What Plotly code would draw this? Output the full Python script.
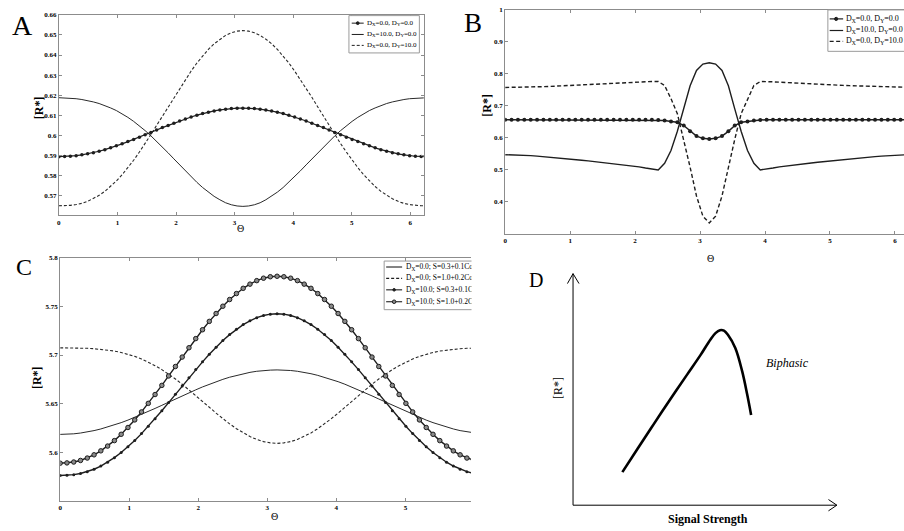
import math
import plotly.graph_objects as go

W, H = 904, 531
def px(x): return x / W
def py(y): return 1 - y / H

# ---------------- data ----------------
theta = [k * math.pi / 32 for k in range(65)]

A_dx0_dy0 = [0.5893,0.5894,0.5895,0.5898,0.5902,0.5907,0.5913,0.5920,0.5928,0.5937,0.5947,0.5957,0.5968,0.5979,0.5990,0.6002,0.6014,0.6026,0.6038,0.6049,0.6060,0.6071,0.6081,0.6091,0.6100,0.6108,0.6115,0.6121,0.6126,0.6130,0.6133,0.6135,0.6135,
             0.6135,0.6133,0.6130,0.6126,0.6121,0.6115,0.6108,0.6100,0.6091,0.6081,0.6071,0.6060,0.6049,0.6038,0.6026,0.6014,0.6002,0.5990,0.5979,0.5968,0.5957,0.5947,0.5937,0.5928,0.5920,0.5913,0.5907,0.5902,0.5898,0.5895,0.5894,0.5893]
A_dx10_dy0 = [0.6187,0.6186,0.6185,0.6182,0.6178,0.6173,0.6166,0.6158,0.6148,0.6136,0.6123,0.6107,0.6089,0.6069,0.6047,0.6023,0.5997,0.5970,0.5941,0.5912,0.5882,0.5852,0.5822,0.5793,0.5765,0.5739,0.5716,0.5695,0.5678,0.5663,0.5653,0.5647,0.5645,
              0.5647,0.5653,0.5663,0.5678,0.5695,0.5716,0.5739,0.5765,0.5793,0.5822,0.5852,0.5882,0.5912,0.5941,0.5970,0.5997,0.6023,0.6047,0.6069,0.6089,0.6107,0.6123,0.6136,0.6148,0.6158,0.6166,0.6173,0.6178,0.6182,0.6185,0.6186,0.6187]
A_dx0_dy10 = [0.5648,0.5648,0.5650,0.5654,0.5660,0.5670,0.5683,0.5700,0.5720,0.5744,0.5772,0.5803,0.5838,0.5875,0.5916,0.5958,0.6003,0.6049,0.6095,0.6142,0.6189,0.6234,0.6278,0.6320,0.6360,0.6395,0.6428,0.6456,0.6479,0.6498,0.6511,0.6519,0.6522,
              0.6519,0.6511,0.6498,0.6479,0.6456,0.6428,0.6395,0.6360,0.6320,0.6278,0.6234,0.6189,0.6142,0.6095,0.6049,0.6003,0.5958,0.5916,0.5875,0.5838,0.5803,0.5772,0.5744,0.5720,0.5700,0.5683,0.5670,0.5660,0.5654,0.5650,0.5648,0.5648]

B_dx0_dy0 = [0.656,0.656,0.656,0.656,0.656,0.656,0.656,0.656,0.656,0.656,0.656,0.656,0.656,0.656,0.656,0.656,0.656,0.656,0.656,0.656,0.656,0.656,0.656,0.656,0.6555,0.654,0.651,0.648,0.638,0.620,0.605,0.598,0.596,
             0.598,0.605,0.620,0.638,0.648,0.651,0.654,0.6555,0.656,0.656,0.656,0.656,0.656,0.656,0.656,0.656,0.656,0.656,0.656,0.656,0.656,0.656,0.656,0.656,0.656,0.656,0.656,0.656,0.656,0.656,0.656,0.656]
B_dx10_dy0 = [0.547,0.5468,0.5462,0.5452,0.5440,0.5425,0.5410,0.5393,0.5375,0.5357,0.5338,0.5318,0.5298,0.5277,0.5256,0.5234,0.5212,0.5190,0.5167,0.5143,0.5118,0.5090,0.5055,0.5015,0.4995,0.520,0.560,0.620,0.690,0.762,0.810,0.830,0.834,
              0.830,0.810,0.762,0.690,0.620,0.560,0.520,0.4995,0.5015,0.5055,0.5090,0.5118,0.5143,0.5167,0.5190,0.5212,0.5234,0.5256,0.5277,0.5298,0.5318,0.5338,0.5357,0.5375,0.5393,0.5410,0.5425,0.5440,0.5452,0.5462,0.5468,0.547]
B_dx0_dy10 = [0.757,0.7571,0.7573,0.7577,0.7582,0.7588,0.7595,0.7602,0.7610,0.7618,0.7626,0.7634,0.7643,0.7652,0.7661,0.7670,0.7680,0.7690,0.7700,0.7711,0.7722,0.7734,0.7746,0.7757,0.7755,0.763,0.722,0.675,0.595,0.508,0.418,0.355,0.334,
              0.355,0.418,0.508,0.595,0.675,0.722,0.763,0.7755,0.7757,0.7746,0.7734,0.7722,0.7711,0.7700,0.7690,0.7680,0.7670,0.7661,0.7652,0.7643,0.7634,0.7626,0.7618,0.7610,0.7602,0.7595,0.7588,0.7582,0.7577,0.7573,0.7571,0.757]

C_dx0_s03 = [5.6184,5.6186,5.6190,5.6198,5.6209,5.6223,5.6240,5.6259,5.6281,5.6305,5.6331,5.6359,5.6389,5.6419,5.6451,5.6483,5.6516,5.6548,5.6580,5.6612,5.6642,5.6672,5.6700,5.6726,5.6750,5.6772,5.6791,5.6808,5.6822,5.6833,5.6841,5.6845,5.6847,
             5.6845,5.6841,5.6833,5.6822,5.6808,5.6791,5.6772,5.6750,5.6726,5.6700,5.6672,5.6642,5.6612,5.6580,5.6548,5.6516,5.6483,5.6451,5.6419,5.6389,5.6359,5.6331,5.6305,5.6281,5.6259,5.6240,5.6223,5.6209,5.6198,5.6190,5.6186,5.6184]
C_dx0_s10 = [5.7074,5.7074,5.7073,5.7071,5.7069,5.7065,5.7059,5.7051,5.7041,5.7026,5.7009,5.6986,5.6959,5.6928,5.6891,5.6850,5.6804,5.6754,5.6700,5.6643,5.6584,5.6523,5.6463,5.6403,5.6346,5.6292,5.6243,5.6199,5.6162,5.6132,5.6110,5.6097,5.6092,
             5.6097,5.6110,5.6132,5.6162,5.6199,5.6243,5.6292,5.6346,5.6403,5.6463,5.6523,5.6584,5.6643,5.6700,5.6754,5.6804,5.6850,5.6891,5.6928,5.6959,5.6986,5.7009,5.7026,5.7041,5.7051,5.7059,5.7065,5.7069,5.7071,5.7073,5.7074,5.7074]
C_dx10_s03 = [5.5762,5.5764,5.5770,5.5782,5.5801,5.5826,5.5859,5.5898,5.5945,5.5998,5.6057,5.6122,5.6192,5.6267,5.6346,5.6427,5.6511,5.6596,5.6682,5.6766,5.6850,5.6930,5.7008,5.7080,5.7149,5.7210,5.7265,5.7313,5.7352,5.7384,5.7406,5.7420,5.7425,
              5.7420,5.7406,5.7384,5.7352,5.7313,5.7265,5.7210,5.7149,5.7080,5.7008,5.6930,5.6850,5.6766,5.6682,5.6596,5.6511,5.6427,5.6346,5.6267,5.6192,5.6122,5.6057,5.5998,5.5945,5.5898,5.5859,5.5826,5.5801,5.5782,5.5770,5.5764,5.5762]
C_dx10_s10 = [5.5888,5.5891,5.5900,5.5916,5.5941,5.5974,5.6015,5.6064,5.6120,5.6185,5.6255,5.6333,5.6415,5.6503,5.6594,5.6688,5.6785,5.6882,5.6979,5.7075,5.7169,5.7260,5.7346,5.7427,5.7502,5.7571,5.7632,5.7686,5.7729,5.7765,5.7790,5.7805,5.7810,
              5.7805,5.7790,5.7765,5.7729,5.7686,5.7632,5.7571,5.7502,5.7427,5.7346,5.7260,5.7169,5.7075,5.6979,5.6882,5.6785,5.6688,5.6594,5.6503,5.6415,5.6333,5.6255,5.6185,5.6120,5.6064,5.6015,5.5974,5.5941,5.5916,5.5900,5.5891,5.5888]

D_signal = [0.187, 0.244, 0.306, 0.370, 0.433, 0.483, 0.521, 0.540, 0.557, 0.572, 0.587, 0.615, 0.641, 0.660, 0.675]
D_response = [0.143, 0.243, 0.350, 0.460, 0.565, 0.648, 0.716, 0.743, 0.756, 0.754, 0.736, 0.679, 0.579, 0.479, 0.390]

theta_ticks = [0, 1, 2, 3, 4, 5, 6]
A_yticks = [0.57, 0.58, 0.59, 0.60, 0.61, 0.62, 0.63, 0.64, 0.65, 0.66]
A_yticktext = ["0.57", "0.58", "0.59", "0.6", "0.61", "0.62", "0.63", "0.64", "0.65", "0.66"]
B_yticks = [0.4, 0.5, 0.6, 0.7, 0.8, 0.9, 1.0]
B_yticktext = ["0.4", "0.5", "0.6", "0.7", "0.8", "0.9", "1"]
C_yticks = [5.6, 5.65, 5.7, 5.75, 5.8]
C_yticktext = ["5.6", "5.65", "5.7", "5.75", "5.8"]

AB_names = ["D<sub>X</sub>=0.0, D<sub>Y</sub>=0.0", "D<sub>X</sub>=10.0, D<sub>Y</sub>=0.0", "D<sub>X</sub>=0.0, D<sub>Y</sub>=10.0"]
C_names = ["D<sub>X</sub>=0.0; S=0.3+0.1CosΘ", "D<sub>X</sub>=0.0; S=1.0+0.2CosΘ",
           "D<sub>X</sub>=10.0; S=0.3+0.1CosΘ", "D<sub>X</sub>=10.0; S=1.0+0.2CosΘ"]

# ---------------- figure ----------------
INK = "#1e1e1e"
SERIF = "Liberation Serif"
fig = go.Figure()

def line_trace(x, y, xa, ya, name, width=1.0, dash=None, marker=None, color=INK):
    t = dict(x=x, y=y, xaxis=xa, yaxis=ya, name=name, showlegend=False, hoverinfo="skip",
             mode="lines+markers" if marker else "lines",
             line=dict(color=color, width=width, dash=dash))
    if marker:
        t["marker"] = marker
    fig.add_trace(go.Scatter(**t))

# A
line_trace(theta, A_dx10_dy0, "x", "y", AB_names[1], width=1.0, color="#2a2a2a")
line_trace(theta, A_dx0_dy10, "x", "y", AB_names[2], width=1.1, dash="3px,2px", color="#2a2a2a")
line_trace(theta, A_dx0_dy0, "x", "y", AB_names[0], width=1.2,
           marker=dict(size=3.5, color=INK, symbol="circle"))
# B
line_trace(theta, B_dx10_dy0, "x2", "y2", AB_names[1], width=1.4)
line_trace(theta, B_dx0_dy10, "x2", "y2", AB_names[2], width=1.4, dash="4px,2.5px")
line_trace(theta, B_dx0_dy0, "x2", "y2", AB_names[0], width=1.5,
           marker=dict(size=4, color=INK, symbol="circle"))
# C
line_trace(theta, C_dx0_s03, "x3", "y3", C_names[0], width=1.0, color="#2a2a2a")
line_trace(theta, C_dx0_s10, "x3", "y3", C_names[1], width=1.1, dash="3px,2px", color="#2a2a2a")
line_trace(theta, C_dx10_s03, "x3", "y3", C_names[2], width=1.4,
           marker=dict(size=3, color=INK, symbol="circle"))
line_trace(theta, C_dx10_s10, "x3", "y3", C_names[3], width=1.4,
           marker=dict(size=4.5, color="#8a8a8a", symbol="circle", line=dict(color=INK, width=1)))
# D
fig.add_trace(go.Scatter(x=D_signal, y=D_response, xaxis="x4", yaxis="y4", mode="lines",
                         line=dict(color="black", width=2.6, shape="spline", smoothing=1.0),
                         showlegend=False, hoverinfo="skip", name="Biphasic"))

def ax(**kw):
    d = dict(showline=True, linecolor="#8c8c8c", linewidth=1, ticks="inside", ticklen=3,
             tickcolor="#8c8c8c", tickwidth=1, showgrid=False, zeroline=False, fixedrange=True,
             tickfont=dict(family=SERIF, size=7, color="black", weight="bold"))
    d.update(kw)
    return d

shapes = []
annos = []

def text(x, y, s, size, xanchor="center", yanchor="middle", angle=0, bold=False, italic=False):
    annos.append(dict(x=px(x), y=py(y), xref="paper", yref="paper", text=s, showarrow=False,
                      xanchor=xanchor, yanchor=yanchor, textangle=angle,
                      font=dict(family=SERIF, size=size, color="black",
                                weight="bold" if bold else "normal",
                                style="italic" if italic else "normal")))

def seg(x0, y0, x1, y1, width=1, dash=None, color=INK):
    shapes.append(dict(type="line", xref="paper", yref="paper", x0=px(x0), y0=py(y0), x1=px(x1), y1=py(y1),
                       line=dict(color=color, width=width, dash=dash), layer="above"))

def dot(x, y, r, fill=INK, edge=INK):
    shapes.append(dict(type="circle", xref="paper", yref="paper", x0=px(x - r), x1=px(x + r),
                       y0=py(y + r), y1=py(y - r), fillcolor=fill, line=dict(color=edge, width=1), layer="above"))

def box(x0, y0, x1, y1):
    shapes.append(dict(type="rect", xref="paper", yref="paper", x0=px(x0), x1=px(x1), y0=py(y1), y1=py(y0),
                       fillcolor="white", line=dict(color="#9a9a9a", width=1), layer="above"))

# legend A
box(347.7, 11.7, 418.3, 49.3)
for i, (yy, dsh) in enumerate([(19.3, None), (30.7, None), (41.7, "3px,2px")]):
    seg(350.5, yy, 362.5, yy, width=1, dash=dsh)
    text(363.5, yy, AB_names[i], 7, xanchor="left")
dot(356.5, 19.3, 1.4)
# legend B
box(827.7, 6, 912, 47.7)
for i, (yy, dsh) in enumerate([(15, None), (26.7, None), (37.7, "4px,2.5px")]):
    seg(829.5, yy, 843, yy, width=1.2, dash=dsh)
    text(844, yy, AB_names[i], 8, xanchor="left")
dot(836, 15, 1.6)
# legend C
box(383, 259, 490, 308)
for i, (yy, dsh) in enumerate([(265, None), (276.5, "3px,2px"), (288, None), (300, None)]):
    seg(385, yy, 401, yy, width=1.1, dash=dsh)
    text(402.5, yy, C_names[i], 7.5, xanchor="left")
dot(393, 288, 1.3)
dot(393, 300, 1.8, fill="#8a8a8a")

# panel D axes with arrows
seg(572.3, 505, 572.3, 271.7, width=1, color="black")
seg(572.3, 505, 836.7, 505, width=1, color="black")
seg(566.7, 281.7, 572.3, 271.7, width=1, color="black")
seg(578.3, 281.7, 572.3, 271.7, width=1, color="black")
seg(828.3, 499.3, 836.7, 505, width=1, color="black")
seg(828.3, 510.7, 836.7, 505, width=1, color="black")

# panel letters
text(21, 22, "A", 28)
text(472.5, 19.5, "B", 27)
text(22.5, 265, "C", 24)
text(535.5, 278, "D", 20)
# axis titles
text(37, 104, "[R*]", 12, angle=-90, bold=True)
text(486, 101.5, "[R*]", 12, angle=-90, bold=True)
text(35, 376, "[R*]", 12, angle=-90, bold=True)
text(239, 226, "Θ", 10)
text(710, 256.5, "Θ", 10)
text(272.7, 516, "Θ", 10)
text(557.5, 386.7, "[R*]", 12, angle=-90)
text(708, 519, "Signal Strength", 12, bold=True)
text(787.5, 362, "Biphasic", 12, italic=True)

# mask clipping the C legend where panel D begins
annos.append(dict(x=px(470.5), y=py(253), xref="paper", yref="paper", text=" ", showarrow=False,
                  xanchor="left", yanchor="top", width=48, height=60, bgcolor="white", borderpad=0))

fig.update_layout(
    width=W, height=H, margin=dict(l=0, r=0, t=0, b=0),
    paper_bgcolor="white", plot_bgcolor="white", showlegend=False,
    xaxis=ax(domain=[px(57), px(422.7)], range=[0, 6.23], anchor="y", tickvals=theta_ticks, mirror="ticks"),
    yaxis=ax(domain=[py(213), py(11)], range=[0.56, 0.66], anchor="x", tickvals=A_yticks,
             ticktext=A_yticktext, mirror="ticks"),
    xaxis2=ax(domain=[px(504.3), 1.0], range=[0, (904 - 504.3) / 65.1], anchor="y2",
              tickvals=theta_ticks, mirror="ticks"),
    yaxis2=ax(domain=[py(231.5), py(5.7)], range=[0.3, 1.0], anchor="x2", tickvals=B_yticks,
              ticktext=B_yticktext),
    xaxis3=ax(domain=[px(58.3), px(470)], range=[0, (470 - 58.3) / 69.2], anchor="y3",
              tickvals=theta_ticks, mirror="ticks"),
    yaxis3=ax(domain=[py(500.7), py(255.7)], range=[5.55, 5.8], anchor="x3", tickvals=C_yticks,
              ticktext=C_yticktext),
    xaxis4=dict(domain=[px(572.3), px(836.7)], range=[0, 1], anchor="y4", visible=False, fixedrange=True),
    yaxis4=dict(domain=[py(505), py(271.7)], range=[0, 1], anchor="x4", visible=False, fixedrange=True),
    shapes=shapes, annotations=annos,
)

fig.write_html("out.html", config={"displayModeBar": False},
               post_script="document.body.style.margin='0';document.body.style.overflow='hidden';")
